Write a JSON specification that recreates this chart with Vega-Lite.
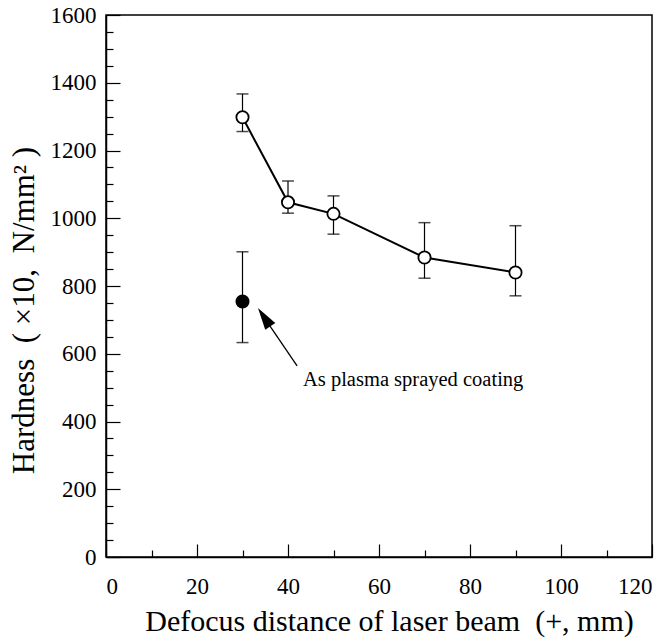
{
  "$schema": "https://vega.github.io/schema/vega-lite/v6.json",
  "autosize": "none",
  "width": 546,
  "height": 542,
  "padding": {"left": 106, "top": 15, "right": 7, "bottom": 83},
  "background": "white",
  "config": {
    "view": {"stroke": "black", "strokeWidth": 1.5},
    "font": "Liberation Serif",
    "axis": {"domainColor": "black", "tickColor": "black", "labelColor": "black", "titleColor": "black", "grid": false, "labelFont": "Liberation Serif", "titleFont": "Liberation Serif", "titleFontWeight": "normal", "domainWidth": 1.5, "tickWidth": 1.2}
  },
  "datasets": {
    "pts": [
      {"series": "laser", "x": 30, "y": 1298, "lo": 1256, "hi": 1367},
      {"series": "laser", "x": 40, "y": 1047, "lo": 1015, "hi": 1110},
      {"series": "laser", "x": 50, "y": 1013, "lo": 953, "hi": 1066},
      {"series": "laser", "x": 70, "y": 884, "lo": 823, "hi": 987},
      {"series": "laser", "x": 90, "y": 840, "lo": 771, "hi": 978},
      {"series": "sprayed", "x": 30, "y": 754, "lo": 633, "hi": 901}
    ],
    "arrow": [
      {"x": 42.0, "y": 564, "x2": 34.7, "y2": 708}
    ],
    "head": [
      {"x": 34.75, "y": 708}
    ],
    "label": [
      {"x": 43.3, "y": 522, "text": "As plasma sprayed coating"}
    ]
  },
  "resolve": {"axis": {"x": "independent", "y": "independent"}},
  "layer": [
    {
      "data": {"name": "pts"},
      "mark": {"type": "rule", "color": "black", "strokeWidth": 1.2},
      "encoding": {
        "x": {"field": "x", "type": "quantitative", "scale": {"domain": [0, 120]},
          "axis": {"orient": "bottom", "values": [10, 30, 50, 70, 90, 110], "tickSize": -7, "labels": false, "domain": false, "title": null}},
        "y": {"field": "lo", "type": "quantitative", "scale": {"domain": [0, 1600]},
          "axis": {"orient": "left", "values": [50, 100, 150, 250, 300, 350, 450, 500, 550, 650, 700, 750, 850, 900, 950, 1050, 1100, 1150, 1250, 1300, 1350, 1450, 1500, 1550], "tickSize": -7, "labels": false, "domain": false, "title": null}},
        "y2": {"field": "hi"}
      }
    },
    {
      "data": {"name": "pts"},
      "mark": {"type": "tick", "orient": "horizontal", "color": "black", "size": 12, "thickness": 1.5},
      "encoding": {
        "x": {"field": "x", "type": "quantitative", "scale": {"domain": [0, 120]},
          "axis": {"orient": "bottom", "values": [0, 20, 40, 60, 80, 100, 120], "format": "d", "tickSize": -13, "labelPadding": 31, "labelFontSize": 23, "title": "Defocus distance of laser beam\u00a0\u00a0(+,\u00a0mm)", "titleFontSize": 30, "titlePadding": 8, "titleX": 283}},
        "y": {"field": "lo", "type": "quantitative", "scale": {"domain": [0, 1600]},
          "axis": {"orient": "left", "values": [0, 200, 400, 600, 800, 1000, 1200, 1400, 1600], "format": "d", "tickSize": -14, "labelPadding": 24, "labelFontSize": 23, "title": "Hardness\u00a0\u00a0(\u00a0×10,\u00a0\u00a0N/mm²\u00a0)", "titleFontSize": 31, "titlePadding": 10, "titleY": 295}}
      }
    },
    {
      "data": {"name": "pts"},
      "mark": {"type": "tick", "orient": "horizontal", "color": "black", "size": 12, "thickness": 1.5},
      "encoding": {
        "x": {"field": "x", "type": "quantitative", "axis": null},
        "y": {"field": "hi", "type": "quantitative", "axis": null}
      }
    },
    {
      "data": {"name": "pts"},
      "transform": [{"filter": "datum.series === 'laser'"}],
      "mark": {"type": "line", "color": "black", "strokeWidth": 2},
      "encoding": {
        "x": {"field": "x", "type": "quantitative", "axis": null},
        "y": {"field": "y", "type": "quantitative", "axis": null}
      }
    },
    {
      "data": {"name": "pts"},
      "mark": {"type": "point", "shape": "circle", "size": 150, "strokeWidth": 1.8, "stroke": "black", "opacity": 1},
      "encoding": {
        "x": {"field": "x", "type": "quantitative", "axis": null},
        "y": {"field": "y", "type": "quantitative", "axis": null},
        "fill": {"field": "series", "type": "nominal", "scale": {"domain": ["laser", "sprayed"], "range": ["white", "black"]}, "legend": null}
      }
    },
    {
      "data": {"name": "arrow"},
      "mark": {"type": "rule", "color": "black", "strokeWidth": 1.3},
      "encoding": {
        "x": {"field": "x", "type": "quantitative", "axis": null},
        "y": {"field": "y", "type": "quantitative", "axis": null},
        "x2": {"field": "x2"},
        "y2": {"field": "y2"}
      }
    },
    {
      "data": {"name": "head"},
      "mark": {"type": "point", "shape": "M0,-1L0.55,1L-0.55,1Z", "size": 484, "angle": 326, "filled": true, "color": "black", "opacity": 1},
      "encoding": {
        "x": {"field": "x", "type": "quantitative", "axis": null},
        "y": {"field": "y", "type": "quantitative", "axis": null}
      }
    },
    {
      "data": {"name": "label"},
      "mark": {"type": "text", "align": "left", "baseline": "middle", "font": "Liberation Serif", "fontSize": 20.5, "color": "black"},
      "encoding": {
        "x": {"field": "x", "type": "quantitative", "axis": null},
        "y": {"field": "y", "type": "quantitative", "axis": null},
        "text": {"field": "text"}
      }
    }
  ]
}
